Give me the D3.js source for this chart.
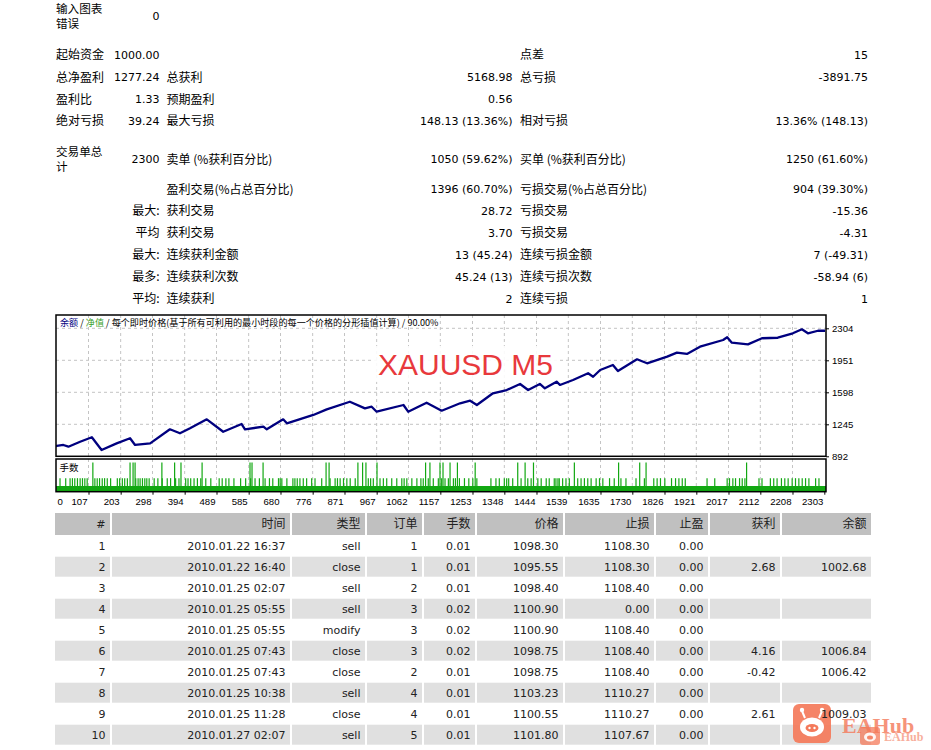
<!DOCTYPE html>
<html><head><meta charset="utf-8">
<script src="https://cdn.jsdelivr.net/npm/d3@7"></script>
<style>body{margin:0;background:#fff}svg{display:block}</style>
</head><body>
<svg id="c" width="931" height="750"></svg>
<script>
// ---------------- DATA ----------------
const errorLabel = ["输入图表", "错误"];
const errorValue = "0";
// [label1, value1, label2, value2, label3, value3]
const statRows = [
  ["起始资金", "1000.00", "", "", "点差", "15"],
  ["总净盈利", "1277.24", "总获利", "5168.98", "总亏损", "-3891.75"],
  ["盈利比", "1.33", "预期盈利", "0.56", "", ""],
  ["绝对亏损", "39.24", "最大亏损", "148.13 (13.36%)", "相对亏损", "13.36% (148.13)"],
  ["交易单总\n计", "2300", "卖单 (%获利百分比)", "1050 (59.62%)", "买单 (%获利百分比)", "1250 (61.60%)"],
  ["", "", "盈利交易(%占总百分比)", "1396 (60.70%)", "亏损交易(%占总百分比)", "904 (39.30%)"],
  ["", "最大:", "获利交易", "28.72", "亏损交易", "-15.36"],
  ["", "平均", "获利交易", "3.70", "亏损交易", "-4.31"],
  ["", "最大:", "连续获利金额", "13 (45.24)", "连续亏损金额", "7 (-49.31)"],
  ["", "最多:", "连续获利次数", "45.24 (13)", "连续亏损次数", "-58.94 (6)"],
  ["", "平均:", "连续获利", "2", "连续亏损", "1"]
];

const chartTitleParts = ["余额", " / ", "净值", " / 每个即时价格(基于所有可利用的最小时段的每一个价格的分形插值计算) / 90.00%"];
const chartSymbol = "XAUUSD M5";
const lotsLabel = "手数";

const xTickValues = [0,107,203,298,394,489,585,680,776,871,967,1062,1157,1253,1348,1444,1539,1635,1730,1826,1921,2017,2112,2208,2303];
const yTickValues = [892,1245,1598,1951,2304];

const balanceTrade = [10,12,32,47,82,117,146,191,231,246,291,350,380,410,460,509,564,574,629,639,688,699,778,818,887,932,952,967,1047,1061,1116,1161,1216,1246,1266,1314,1355,1395,1419,1454,1469,1504,1514,1553,1598,1613,1634,1672,1687,1744,1774,1834,1863,1893,1932,2001,2013,2027,2075,2117,2164,2209,2236,2254,2284,2305];
const balanceValue = [1000,1006,1017,998,1053,1102,962,1035,1091,1017,1035,1190,1146,1201,1300,1163,1248,1190,1219,1190,1300,1256,1348,1410,1494,1421,1439,1384,1458,1384,1483,1395,1477,1505,1458,1587,1623,1690,1623,1690,1642,1715,1679,1734,1808,1770,1844,1899,1833,1962,1918,1991,2035,2021,2101,2175,2205,2145,2127,2194,2200,2249,2293,2249,2277,2277];

const tradeSpan = [10, 2308];
const baseLot = 0.01;
const smallLot = 0.02;
const largeLot = 0.04;
const lotTradesSmall = [22,39,52,59,66,74,82,89,96,103,126,133,140,148,155,163,173,193,200,208,215,223,248,255,261,268,275,281,288,303,314,327,342,352,367,377,397,404,412,422,432,442,457,472,497,506,517,526,541,561,576,591,604,617,634,647,657,674,679,684,699,717,723,730,738,748,758,773,783,803,828,843,850,858,868,878,888,903,942,949,957,977,987,997,1012,1027,1042,1049,1057,1072,1087,1099,1106,1121,1136,1151,1161,1171,1181,1196,1202,1214,1229,1242,1254,1266,1308,1323,1333,1348,1355,1361,1373,1398,1418,1428,1448,1458,1473,1482,1497,1502,1508,1512,1522,1532,1542,1567,1577,1587,1597,1607,1622,1632,1642,1662,1676,1696,1711,1741,1766,1794,1804,1814,1827,1847,1859,1869,1879,1888,1953,1976,2013,2020,2030,2038,2050,2058,2066,2108,2117,2142,2152,2162,2175,2185,2195,2207,2217,2227,2237,2247,2257,2277,2287];
const lotTradesLarge = [120,231,240,246,326,364,383,446,589,595,628,816,825,911,925,935,968,1113,1126,1156,1165,1186,1208,1261,1388,1410,1435,1557,1689,1752,1771,2071];

const tableHeaders = ["#","时间","类型","订单","手数","价格","止损","止盈","获利","余额"];
const tableRows = [
  ["1","2010.01.22 16:37","sell","1","0.01","1098.30","1108.30","0.00","",""],
  ["2","2010.01.22 16:40","close","1","0.01","1095.55","1108.30","0.00","2.68","1002.68"],
  ["3","2010.01.25 02:07","sell","2","0.01","1098.40","1108.40","0.00","",""],
  ["4","2010.01.25 05:55","sell","3","0.02","1100.90","0.00","0.00","",""],
  ["5","2010.01.25 05:55","modify","3","0.02","1100.90","1108.40","0.00","",""],
  ["6","2010.01.25 07:43","close","3","0.02","1098.75","1108.40","0.00","4.16","1006.84"],
  ["7","2010.01.25 07:43","close","2","0.01","1098.75","1108.40","0.00","-0.42","1006.42"],
  ["8","2010.01.25 10:38","sell","4","0.01","1103.23","1110.27","0.00","",""],
  ["9","2010.01.25 11:28","close","4","0.01","1100.55","1110.27","0.00","2.61","1009.03"],
  ["10","2010.01.27 02:07","sell","5","0.01","1101.80","1107.67","0.00","",""]
];
const watermarkText = "EAHub";

// ---------------- LAYOUT / STYLE ----------------
const LAT = "'DejaVu Sans','Noto Sans CJK SC',sans-serif";
const CJK = "'Noto Sans CJK SC','DejaVu Sans',sans-serif";
const AX = "'Liberation Sans','DejaVu Sans',sans-serif";
const isCJK = s => /[\u3400-\u9fff]/.test(s);
const svg = d3.select("#c");
svg.append("rect").attr("width",931).attr("height",750).attr("fill","#fff");

function put(g, px, py, s, anchor, color) {
  if (!s) return;
  const lines = s.split("\n");
  const off = lines.length > 1 ? [-7, 7.6] : [0];
  lines.forEach((ln, i) => {
    g.append("text").attr("x", px).attr("y", py + off[i]).attr("dy", "0.36em")
      .attr("text-anchor", anchor)
      .style("font-family", isCJK(ln) ? CJK : LAT)
      .style("font-size", isCJK(ln) ? (lines.length > 1 ? "11.6px" : "12px") : "11px")
      .attr("fill", color || "#000").text(ln);
  });
}

// ---------- summary ----------
const summaryG = svg.append("g");
const cols = [{x:56,a:"start"},{x:159.5,a:"end"},{x:166.5,a:"start"},{x:512.5,a:"end"},{x:520,a:"start"},{x:868,a:"end"}];
put(summaryG, 56, 16, errorLabel.join("\n"), "start");
put(summaryG, 159.5, 16, errorValue, "end");
const rowY = [55,77.3,99.3,120.7,159.3,189.3,211,232.7,254.7,276.7,298.7];
statRows.forEach((r, i) => r.forEach((s, j) => put(summaryG, cols[j].x, rowY[i], s, cols[j].a)));

// ---------- chart ----------
const box = {l:56, r:826, t:315, b:456.3};
const sub = {t:459, b:491.7};
const x = d3.scaleLinear().domain(tradeSpan).range([box.l, box.r]);
const y = d3.scaleLinear().domain([892, 2304]).range([456.3, 328.3]);
const lotY = d3.scaleLinear().domain([baseLot, largeLot]).range([486, 462.5]);

const grid = svg.append("g").attr("stroke","#c4c4c4").attr("stroke-dasharray","3,3").attr("stroke-width",1);
xTickValues.filter(v => v > 0 && x(v) < box.r - 3).forEach(v => {
  grid.append("line").attr("x1",x(v)).attr("x2",x(v)).attr("y1",box.t).attr("y2",box.b);
  grid.append("line").attr("x1",x(v)).attr("x2",x(v)).attr("y1",sub.t).attr("y2",sub.b);
});
yTickValues.filter(v => y(v) > box.t + 2 && y(v) < box.b - 2).forEach(v => {
  grid.append("line").attr("x1",box.l).attr("x2",box.r).attr("y1",y(v)).attr("y2",y(v));
});

// symbol label
svg.append("rect").attr("x",372).attr("y",346).attr("width",186).attr("height",36).attr("fill","#fff").attr("opacity",0.9);
svg.append("text").attr("x",378).attr("y",375).style("font-family","'Liberation Sans',Arial,sans-serif")
  .style("font-size","30px").attr("fill","#e8393c").text(chartSymbol);

// header text
const ht = svg.append("text").attr("x",60).attr("y",322.5).attr("dy","0.36em")
  .style("font-family",CJK).style("font-size","9.1px");
const htColors = ["#000080","#000","#3aa02a","#000"];
chartTitleParts.forEach((p,i) => ht.append("tspan").attr("fill",htColors[i]).text(p));

// balance line
svg.append("clipPath").attr("id","clipMain").append("rect")
  .attr("x",box.l).attr("y",box.t).attr("width",box.r-box.l).attr("height",box.b-box.t);
const balPts = balanceTrade.map((t,i) => [t, balanceValue[i]]);
svg.append("path").attr("clip-path","url(#clipMain)")
  .attr("d", d3.line().x(d => x(d[0])).y(d => y(d[1]))(balPts))
  .attr("fill","none").attr("stroke","#00007f").attr("stroke-width",2.3).attr("stroke-linejoin","round");

// lots
const green = "#12a812";
const lotsG = svg.append("g");
lotsG.append("path")
  .attr("d", d3.area().x(d => x(d)).y0(sub.b).y1(lotY(baseLot))(tradeSpan))
  .attr("fill", green);
lotsG.selectAll("line.s").data(lotTradesSmall).join("line").attr("class","s")
  .attr("x1",d=>x(d)).attr("x2",d=>x(d)).attr("y1",sub.b).attr("y2",lotY(smallLot))
  .attr("stroke",green).attr("stroke-width",1.2);
lotsG.selectAll("line.l").data(lotTradesLarge).join("line").attr("class","l")
  .attr("x1",d=>x(d)).attr("x2",d=>x(d)).attr("y1",sub.b).attr("y2",lotY(largeLot))
  .attr("stroke",green).attr("stroke-width",1.2);
svg.append("text").attr("x",59.5).attr("y",467.5).attr("dy","0.36em")
  .style("font-family",CJK).style("font-size","9.5px").attr("fill","#000").text(lotsLabel);

// borders
svg.append("rect").attr("x",box.l).attr("y",box.t).attr("width",box.r-box.l).attr("height",box.b-box.t)
  .attr("fill","none").attr("stroke","#000").attr("stroke-width",1.5);
svg.append("rect").attr("x",box.l).attr("y",sub.t).attr("width",box.r-box.l).attr("height",sub.b-sub.t)
  .attr("fill","none").attr("stroke","#000").attr("stroke-width",1.5);

// axes
const yAx = svg.append("g").attr("transform",`translate(${box.r},0)`)
  .call(d3.axisRight(y).tickValues(yTickValues).tickSize(3).tickPadding(3).tickFormat(d3.format("d")));
yAx.select(".domain").remove();
yAx.selectAll("text").style("font-family",AX).style("font-size","9.6px").attr("fill","#000");
yAx.selectAll("line").attr("stroke","#000");

const xAx = svg.append("g").attr("transform",`translate(0,${sub.b})`)
  .call(d3.axisBottom(x).tickValues(xTickValues).tickSize(3).tickFormat(d3.format("d")));
xAx.select(".domain").remove();
xAx.selectAll("line").attr("stroke","#000");
xAx.selectAll(".tick").filter(d => d === 0).select("line").remove();
xAx.selectAll("text").style("font-family",AX).style("font-size","9.6px").attr("fill","#000")
  .attr("y",9.5).attr("dy","0.36em").attr("text-anchor","end").attr("x",-1.5);
xAx.selectAll(".tick").filter(d => d === 0).select("text")
  .attr("text-anchor","start").attr("x", box.l + 1 - x(0));

// ---------- table ----------
const colL = [55,112,292,367,424,477,565,656,710,782];
const colR = [110,290,365,422,475,563,654,708,780,871];
const tbl = svg.append("g");
const headTop = 513, headH = 22, rowTop = 535.7, rowH = 21;
tableHeaders.forEach((h,j) => {
  tbl.append("rect").attr("x",colL[j]).attr("y",headTop).attr("width",colR[j]-colL[j]).attr("height",headH).attr("fill","#c0c0c0");
});
tableRows.forEach((r,i) => {
  if (i % 2 === 1) r.forEach((c,j) => {
    tbl.append("rect").attr("x",colL[j]).attr("y",rowTop+i*rowH).attr("width",colR[j]-colL[j]).attr("height",rowH-1).attr("fill","#e0e0e0");
  });
});

// watermark (under table text)
const wm = svg.append("g");
const wmC = "#f4795a";
wm.append("rect").attr("x",793).attr("y",704).attr("width",38).attr("height",39).attr("rx",6).attr("fill",wmC).attr("opacity",0.92);
wm.append("line").attr("x1",805).attr("y1",718).attr("x2",802).attr("y2",711).attr("stroke","#fff").attr("stroke-width",2);
wm.append("line").attr("x1",819).attr("y1",718).attr("x2",822).attr("y2",711).attr("stroke","#fff").attr("stroke-width",2);
wm.append("circle").attr("cx",802).attr("cy",710).attr("r",2.2).attr("fill","#fff");
wm.append("circle").attr("cx",822).attr("cy",710).attr("r",2.2).attr("fill","#fff");
wm.append("ellipse").attr("cx",812).attr("cy",727).attr("rx",12).attr("ry",9.5).attr("fill","#fff");
wm.append("ellipse").attr("cx",812).attr("cy",728).attr("rx",6.5).attr("ry",4).attr("fill",wmC);
wm.append("circle").attr("cx",809.5).attr("cy",728).attr("r",1.2).attr("fill","#fff");
wm.append("circle").attr("cx",814.5).attr("cy",728).attr("r",1.2).attr("fill","#fff");
wm.append("text").attr("x",842).attr("y",733).style("font-family","'Liberation Serif','DejaVu Serif',serif")
  .style("font-weight","bold").style("font-size","22px").attr("fill",wmC).attr("opacity",0.8).text(watermarkText);
wm.append("rect").attr("x",860).attr("y",727).attr("width",20).attr("height",18).attr("rx",3).attr("fill",wmC).attr("opacity",0.75);
wm.append("ellipse").attr("cx",870).attr("cy",737).attr("rx",6).attr("ry",4.5).attr("fill","#fff").attr("opacity",0.9);
wm.append("ellipse").attr("cx",870).attr("cy",737.5).attr("rx",3).attr("ry",2).attr("fill",wmC).attr("opacity",0.9);
wm.append("text").attr("x",884).attr("y",741).style("font-family","'Liberation Serif','DejaVu Serif',serif")
  .style("font-weight","bold").style("font-size","12px").attr("fill",wmC).attr("opacity",0.6).text(watermarkText);

const tt = svg.append("g");
tableHeaders.forEach((h,j) => put(tt, colR[j]-4.5, headTop+headH/2, h, "end", "#222"));
tableRows.forEach((r,i) => r.forEach((c,j) => put(tt, colR[j]-4.5, rowTop+i*rowH+(rowH-1)/2, c, "end", "#222")));
</script>
</body></html>
